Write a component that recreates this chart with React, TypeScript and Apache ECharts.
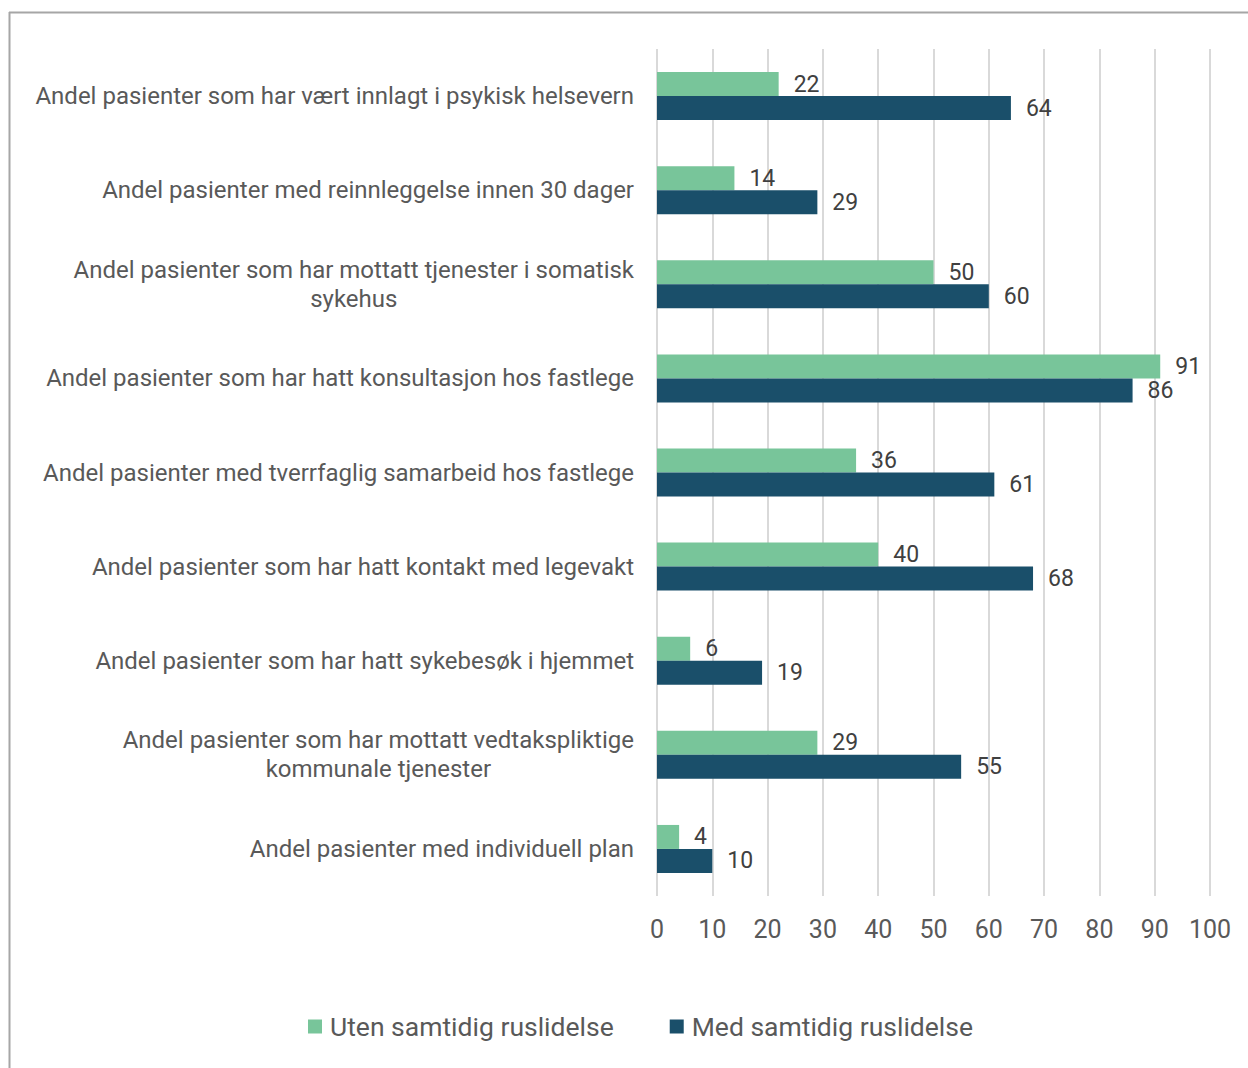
import React, { useEffect, useRef } from "react";
import * as echarts from "echarts";

const categories = [
  "Andel pasienter som har vært innlagt i psykisk helsevern",
  "Andel pasienter med reinnleggelse innen 30 dager",
  "Andel pasienter som har mottatt tjenester i somatisk\nsykehus",
  "Andel pasienter som har hatt konsultasjon hos fastlege",
  "Andel pasienter med tverrfaglig samarbeid hos fastlege",
  "Andel pasienter som har hatt kontakt med legevakt",
  "Andel pasienter som har hatt sykebesøk i hjemmet",
  "Andel pasienter som har mottatt vedtakspliktige\nkommunale tjenester",
  "Andel pasienter med individuell plan",
];
const utenValues = [22, 14, 50, 91, 36, 40, 6, 29, 4];
const medValues = [64, 29, 60, 86, 61, 68, 19, 55, 10];
const seriesNames = ["Uten samtidig ruslidelse", "Med samtidig ruslidelse"];

const FONT = "Roboto, 'Noto Sans', sans-serif";

export default function App() {
  const ref = useRef<HTMLDivElement>(null);
  useEffect(() => {
    if (!ref.current) return;
    const chart = echarts.init(ref.current, null, { renderer: "svg" });
    const labelStyle = {
      show: true,
      position: "right" as const,
      distance: 15,
      color: "#404040",
      fontSize: 23,
      fontFamily: FONT,
    };
    chart.setOption({
      animation: false,
      textStyle: { fontFamily: FONT },
      grid: { left: 657, right: 38, top: 49, bottom: 172, containLabel: false },
      legend: {
        data: seriesNames,
        bottom: 23,
        left: 303,
        itemWidth: 14,
        itemHeight: 14,
        itemGap: 56,
        icon: "rect",
        textStyle: { fontSize: 26.5, color: "#595959", fontFamily: FONT, padding: [0, 0, 0, 3] },
      },
      xAxis: {
        type: "value",
        min: 0,
        max: 100,
        interval: 10,
        axisLine: { show: false },
        axisTick: { show: false },
        splitLine: { show: true, lineStyle: { color: "#d9d9d9", width: 2 } },
        axisLabel: { fontSize: 25, color: "#595959", margin: 21, fontFamily: FONT },
      },
      yAxis: {
        type: "category",
        data: categories,
        inverse: true,
        axisLine: { show: false },
        axisTick: { show: false },
        axisLabel: {
          margin: 23,
          formatter: (v: string) =>
            v
              .split("\n")
              .map((l) => `{c|${l}}`)
              .join("\n"),
          rich: {
            c: {
              fontSize: 24,
              color: "#595959",
              fontFamily: FONT,
              align: "center",
              lineHeight: 29,
            },
          },
        },
      },
      series: [
        {
          name: seriesNames[0],
          type: "bar",
          data: utenValues,
          barWidth: 24,
          barGap: "0%",
          itemStyle: { color: "#78c59a" },
          label: labelStyle,
        },
        {
          name: seriesNames[1],
          type: "bar",
          data: medValues,
          barWidth: 24,
          barGap: "0%",
          itemStyle: { color: "#1a4f6a" },
          label: labelStyle,
        },
      ],
      graphic: [
        {
          type: "line",
          shape: { x1: 9, y1: 12.5, x2: 1248, y2: 12.5 },
          style: { stroke: "#a6a6a6", lineWidth: 2 },
        },
        {
          type: "line",
          shape: { x1: 9.5, y1: 12, x2: 9.5, y2: 1068 },
          style: { stroke: "#a6a6a6", lineWidth: 2 },
        },
      ],
    });
    return () => chart.dispose();
  }, []);
  return (
    <div
      ref={ref}
      style={{ position: "absolute", left: 0, top: 0, width: 1248, height: 1068, background: "#fff" }}
    />
  );
}
